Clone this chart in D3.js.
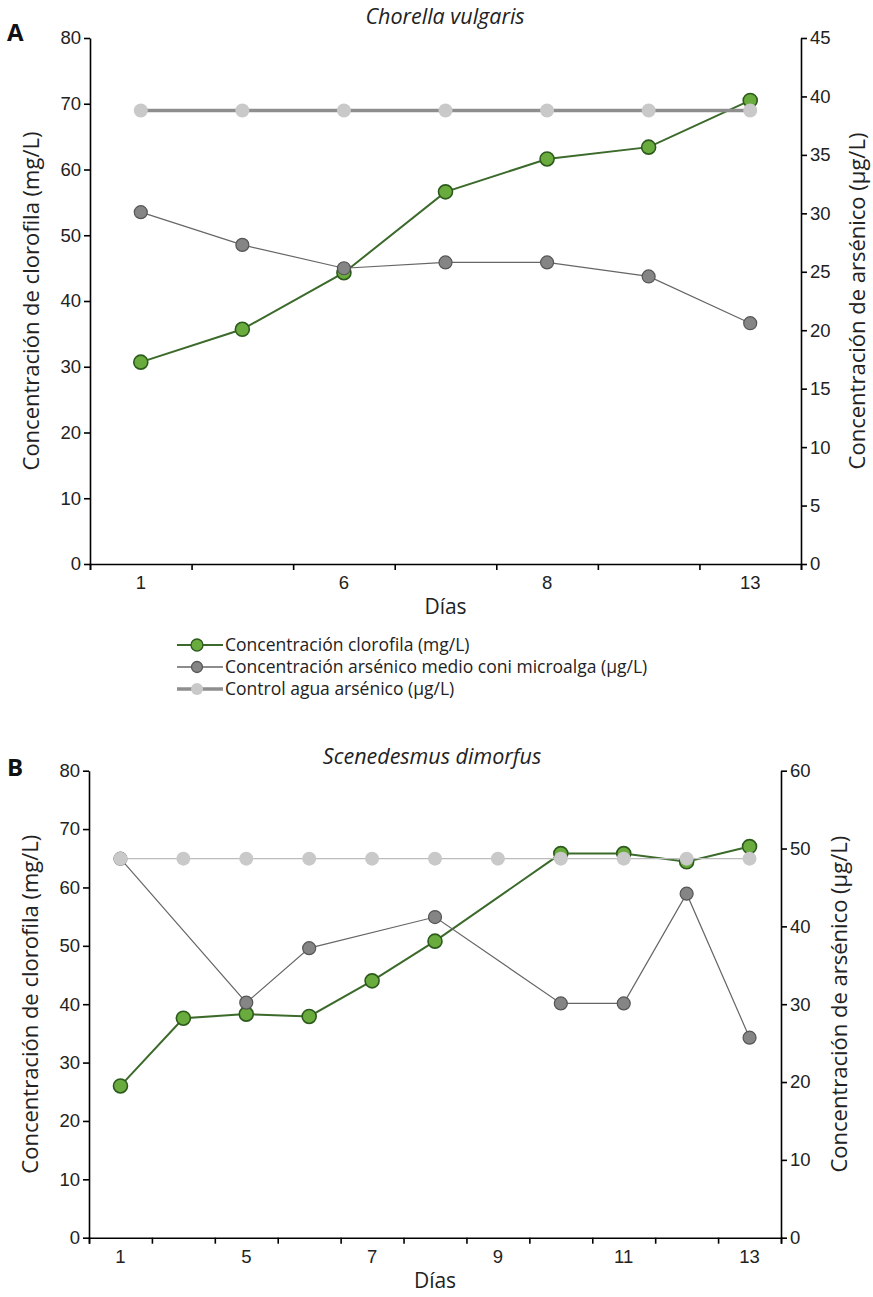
<!DOCTYPE html>
<html>
<head>
<meta charset="utf-8">
<script src="https://cdn.jsdelivr.net/npm/d3@7"></script>
<style>
	body { margin: 0; background: #fff; }
	svg { display: block; font-family: "Open Sans", "Noto Sans", sans-serif; }
	.axis path, .axis line { stroke: #000; stroke-width: 1.6; }
	.axis text { fill: #222; }
</style>
</head>
<body>
<div id="chart"></div>
<script>
// Panel A - Chorella vulgaris
const daysA = ["1", "", "6", "", "8", "", "13"]
const clorofilaA = [30.7, 35.7, 44.3, 56.6, 61.6, 63.4, 70.5]
const arsenicoA = [30.1, 27.3, 25.3, 25.8, 25.8, 24.6, 20.6]
const controlA = [38.8, 38.8, 38.8, 38.8, 38.8, 38.8, 38.8]
const leftTicksA = [0, 10, 20, 30, 40, 50, 60, 70, 80]
const rightTicksA = [0, 5, 10, 15, 20, 25, 30, 35, 40, 45]

// Panel B - Scenedesmus dimorfus (null = no point that day)
const daysB = ["1", "", "5", "", "7", "", "9", "", "11", "", "13"]
const clorofilaB = [26.0, 37.6, 38.3, 37.9, 44.0, 50.8, null, 65.8, 65.8, 64.4, 67.0]
const arsenicoB = [48.7, null, 30.2, 37.2, null, 41.2, null, 30.1, 30.1, 44.2, 25.7]
const controlB = [48.7, 48.7, 48.7, 48.7, 48.7, 48.7, 48.7, 48.7, 48.7, 48.7, 48.7]
const leftTicksB = [0, 10, 20, 30, 40, 50, 60, 70, 80]
const rightTicksB = [0, 10, 20, 30, 40, 50, 60]

const legendLabels = [
	"Concentración clorofila (mg/L)",
	"Concentración arsénico medio coni microalga (µg/L)",
	"Control agua arsénico (µg/L)"
]

const green = { line: "#3b6a2a", fill: "#6aab3e", stroke: "#2c5a1c" }
const gray = { line: "#666", fill: "#858585", stroke: "#555" }
const ctrl = { fill: "#c9c9c9" }

let svg = d3.select("#chart").append("svg")
	.attr("width", 873)
	.attr("height", 1297)

function drawPanel(p){
	let g = svg.append("g")
	let n = p.days.length

	// boundaries and centers
	var xLin = d3.scaleLinear().domain([0, n]).range([p.x0, p.x1])
	var xBand = d3.scaleBand().domain(d3.range(n)).range([p.x0, p.x1])
	var cx = i => xBand(i) + xBand.bandwidth() / 2

	var yL = d3.scaleLinear().domain([0, 80]).range([p.y0, p.y1])
	var yR = d3.scaleLinear().domain([0, p.rightMax]).range([p.y0, p.y1])

	// axes
	g.append("g")
		.attr("class", "axis")
		.attr("transform", "translate(0," + p.y0 + ")")
		.call(d3.axisBottom(xLin).tickValues(d3.range(n + 1)).tickFormat("").tickSizeOuter(0).tickSize(6))
	g.append("g")
		.attr("class", "axis")
		.attr("transform", "translate(0," + p.y0 + ")")
		.call(d3.axisBottom(xBand).tickSize(0).tickPadding(12).tickFormat(i => p.days[i]))
		.call(a => a.select(".domain").remove())
		.selectAll("text").attr("font-size", "18.5px")
	g.append("g")
		.attr("class", "axis")
		.attr("transform", "translate(" + p.x0 + ",0)")
		.call(d3.axisLeft(yL).tickValues(p.leftTicks).tickSize(6).tickSizeOuter(0).tickPadding(3))
		.selectAll("text").attr("font-size", "18.5px")
	g.append("g")
		.attr("class", "axis")
		.attr("transform", "translate(" + p.x1 + ",0)")
		.call(d3.axisRight(yR).tickValues(p.rightTicks).tickSize(6).tickSizeOuter(0).tickPadding(3))
		.selectAll("text").attr("font-size", "18.5px")

	// labels
	g.append("text")
		.attr("x", p.titleX)
		.attr("y", p.titleY)
		.attr("text-anchor", "middle")
		.attr("font-size", "21.5px")
		.attr("font-style", "italic")
		.attr("fill", "#222")
		.text(p.title)
	g.append("text")
		.attr("x", 7)
		.attr("y", p.letterY)
		.attr("font-size", "24px")
		.attr("font-weight", "bold")
		.attr("fill", "#111")
		.text(p.letter)
	g.append("text")
		.attr("x", (p.x0 + p.x1) / 2)
		.attr("y", p.y0 + 50)
		.attr("text-anchor", "middle")
		.attr("font-size", "21px")
		.attr("fill", "#222")
		.text("Días")
	g.append("text")
		.attr("transform", "translate(" + p.leftLabelX + "," + (p.y0 + p.y1) / 2 + ") rotate(-90)")
		.attr("text-anchor", "middle")
		.attr("font-size", "22px")
		.attr("fill", "#222")
		.text("Concentración de clorofila (mg/L)")
	g.append("text")
		.attr("transform", "translate(" + p.rightLabelX + "," + (p.y0 + p.y1) / 2 + ") rotate(-90)")
		.attr("text-anchor", "middle")
		.attr("font-size", "22px")
		.attr("fill", "#222")
		.text("Concentración de arsénico (µg/L)")

	// series
	function series(values, y, st, lineW, r, strokeW){
		let pts = values.map((v, i) => ({ i: i, v: v })).filter(d => d.v != null)
		g.append("path")
			.datum(pts)
			.attr("fill", "none")
			.attr("stroke", st.line)
			.attr("stroke-width", lineW)
			.attr("d", d3.line().x(d => cx(d.i)).y(d => y(d.v)))
		g.selectAll(null)
			.data(pts)
			.enter()
			.append("circle")
			.attr("cx", d => cx(d.i))
			.attr("cy", d => y(d.v))
			.attr("r", r)
			.attr("fill", st.fill)
			.attr("stroke", st.stroke || "none")
			.attr("stroke-width", strokeW)
	}
	series(p.clorofila, yL, green, 2, 7, 1.6)
	series(p.arsenico, yR, gray, 1.2, 6.5, 1.2)
	series(p.control, yR, { line: p.ctrlLine, fill: ctrl.fill }, p.ctrlWidth, 7, 0)
}

drawPanel({
	days: daysA, clorofila: clorofilaA, arsenico: arsenicoA, control: controlA,
	leftTicks: leftTicksA, rightTicks: rightTicksA, rightMax: 45,
	x0: 90, x1: 801, y0: 564, y1: 38,
	title: "Chorella vulgaris", titleX: 445, titleY: 24,
	letter: "A", letterY: 41,
	leftLabelX: 39, rightLabelX: 865,
	ctrlLine: "#8e8e8e", ctrlWidth: 3.5
})

drawPanel({
	days: daysB, clorofila: clorofilaB, arsenico: arsenicoB, control: controlB,
	leftTicks: leftTicksB, rightTicks: rightTicksB, rightMax: 60,
	x0: 89, x1: 781, y0: 1237.7, y1: 770.7,
	title: "Scenedesmus dimorfus", titleX: 432, titleY: 764,
	letter: "B", letterY: 776,
	leftLabelX: 38, rightLabelX: 847,
	ctrlLine: "#bcbcbc", ctrlWidth: 1.3
})

// legend
let legend = svg.append("g").attr("transform", "translate(177,645)")
const legendStyle = [
	{ line: green.line, lw: 2, fill: green.fill, stroke: green.stroke, r: 6 },
	{ line: gray.line, lw: 1.5, fill: gray.fill, stroke: gray.stroke, r: 5.5 },
	{ line: "#8e8e8e", lw: 3.5, fill: ctrl.fill, stroke: "none", r: 6 }
]
legendLabels.forEach((t, i) => {
	let row = legend.append("g").attr("transform", "translate(0," + (i * 22) + ")")
	let s = legendStyle[i]
	row.append("line")
		.attr("x1", 0).attr("x2", 46)
		.attr("stroke", s.line)
		.attr("stroke-width", s.lw)
	row.append("circle")
		.attr("cx", 20).attr("r", s.r)
		.attr("fill", s.fill)
		.attr("stroke", s.stroke)
		.attr("stroke-width", 1.3)
	row.append("text")
		.attr("x", 48)
		.attr("y", 6)
		.attr("font-size", "17.5px")
		.attr("fill", "#222")
		.text(t)
})
</script>
</body>
</html>
